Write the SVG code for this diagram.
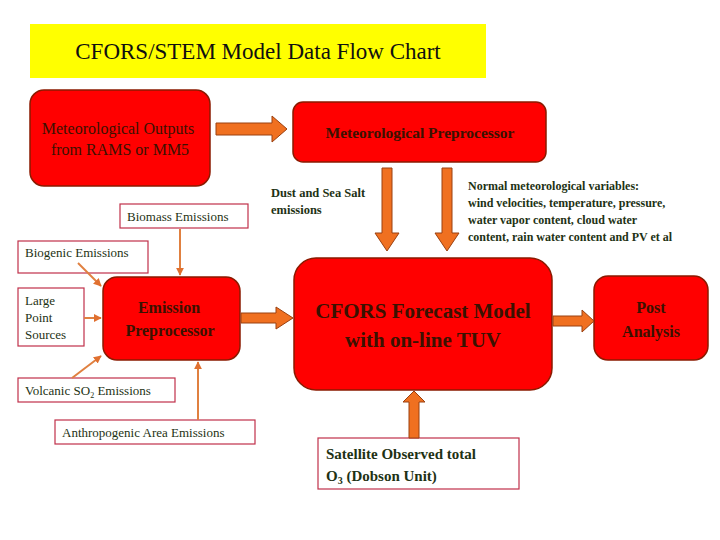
<svg xmlns="http://www.w3.org/2000/svg" width="720" height="540" viewBox="0 0 720 540" font-family="'Liberation Serif', serif">
<defs>
<style>
.rb{fill:#ff0000;stroke:#8b1a00;stroke-width:1.5}
.lb{fill:#fff;stroke:#c0304a;stroke-width:1.2}
.t{font-family:'Liberation Serif',serif;fill:#1e3214;font-size:13px}
.rt{font-family:'Liberation Serif',serif;fill:#3a1200;font-weight:bold}
.ba{fill:#f07020;stroke:#9a4010;stroke-width:1}
.tl{stroke:#e08040;stroke-width:2;fill:none;marker-end:url(#ah)}
</style>
<marker id="ah" viewBox="0 0 10 10" refX="9" refY="5" markerWidth="4" markerHeight="4" orient="auto"><path d="M0,0L10,5L0,10z" fill="#e07030"/></marker>
</defs>
<rect width="720" height="540" fill="#fff"/>
<g id="title"><rect x="30" y="24" width="456" height="54" fill="#ffff00"/>
<text x="258" y="59" text-anchor="middle" font-size="23" fill="#101010">CFORS/STEM Model Data Flow Chart</text></g>
<g id="metout"><rect class="rb" x="30" y="90" width="180" height="96" rx="14"/>
<text class="rt" x="118" y="134" text-anchor="middle" font-size="16" style="font-weight:normal">Meteorological Outputs</text>
<text class="rt" x="120" y="155" text-anchor="middle" font-size="16" style="font-weight:normal">from RAMS or MM5</text></g>
<g id="metpre"><rect class="rb" x="293" y="102" width="253" height="60" rx="10"/>
<text class="rt" x="420" y="138" text-anchor="middle" font-size="15.5">Meteorological Preprocessor</text></g>
<g id="cfors"><rect class="rb" x="294" y="258" width="258" height="132" rx="22"/>
<text class="rt" x="423" y="318" text-anchor="middle" font-size="21">CFORS Forecast Model</text>
<text class="rt" x="423" y="347" text-anchor="middle" font-size="21">with on-line TUV</text></g>
<g id="post"><rect class="rb" x="594" y="276" width="114" height="84" rx="14"/>
<text class="rt" x="651" y="313" text-anchor="middle" font-size="16">Post</text>
<text class="rt" x="651" y="337" text-anchor="middle" font-size="16">Analysis</text></g>
<g id="emis"><rect class="rb" x="103" y="277" width="137" height="83" rx="14"/>
<text class="rt" x="169" y="313" text-anchor="middle" font-size="16">Emission</text>
<text class="rt" x="170" y="336" text-anchor="middle" font-size="16">Preprocessor</text></g>
<g id="dust"><text class="t" x="271" y="197" font-weight="bold" style="font-size:12.5px">Dust and Sea Salt</text><text class="t" x="271" y="214" font-weight="bold" style="font-size:12.5px">emissions</text></g>
<g id="normal"><text class="t" x="468" y="190" font-weight="bold" style="font-size:12px">Normal meteorological variables:</text>
<text class="t" x="468" y="207" font-weight="bold" style="font-size:12px">wind velocities, temperature, pressure,</text>
<text class="t" x="468" y="224" font-weight="bold" style="font-size:12px">water vapor content, cloud water</text>
<text class="t" x="468" y="241" font-weight="bold" style="font-size:12px">content, rain water content and PV et al</text></g>
<g id="sat"><rect class="lb" x="318" y="438" width="201" height="51"/>
<text class="t" x="326" y="459" font-weight="bold" style="font-size:15px">Satellite Observed total</text>
<text class="t" x="326" y="481" font-weight="bold" style="font-size:15px">O<tspan font-size="10" dy="3">3</tspan><tspan dy="-3"> (Dobson Unit)</tspan></text></g>
<g id="biomass"><rect class="lb" x="120" y="204" width="128" height="24"/><text class="t" x="127" y="221">Biomass Emissions</text></g>
<g id="biogenic"><rect class="lb" x="18" y="241" width="130" height="32"/><text class="t" x="25" y="257">Biogenic Emissions</text></g>
<g id="lps"><rect class="lb" x="18" y="288" width="66" height="58"/><text class="t" x="25" y="305">Large</text><text class="t" x="25" y="322">Point</text><text class="t" x="25" y="339">Sources</text></g>
<g id="volc"><rect class="lb" x="18" y="378" width="157" height="24"/><text class="t" x="25" y="395">Volcanic SO<tspan font-size="8" dy="3">2</tspan><tspan dy="-3"> Emissions</tspan></text></g>
<g id="anth"><rect class="lb" x="55" y="420" width="200" height="24"/><text class="t" x="62" y="437">Anthropogenic Area Emissions</text></g>
<g id="connectors">
<path class="ba" d="M216,123H272V116L287,129L272,142V135H216z"/>
<path class="ba" d="M382,168H392V233H399L387,251L375,233H382z"/>
<path class="ba" d="M442,168H452V233H459L447,251L435,233H442z"/>
<path class="ba" d="M241,313H276V307L293,318L276,329V323H241z"/>
<path class="ba" d="M553,316H582V310L594,321L582,332V326H553z"/>
<path class="ba" d="M409,438V402H403L414,391L425,402H419V438z"/>
<line class="tl" x1="180" y1="229" x2="180" y2="275"/>
<line class="tl" x1="78" y1="263" x2="101" y2="286"/>
<line class="tl" x1="84" y1="318" x2="101" y2="318"/>
<line class="tl" x1="72" y1="378" x2="101" y2="356"/>
<line class="tl" x1="198" y1="420" x2="198" y2="362"/>
</g>
</svg>
